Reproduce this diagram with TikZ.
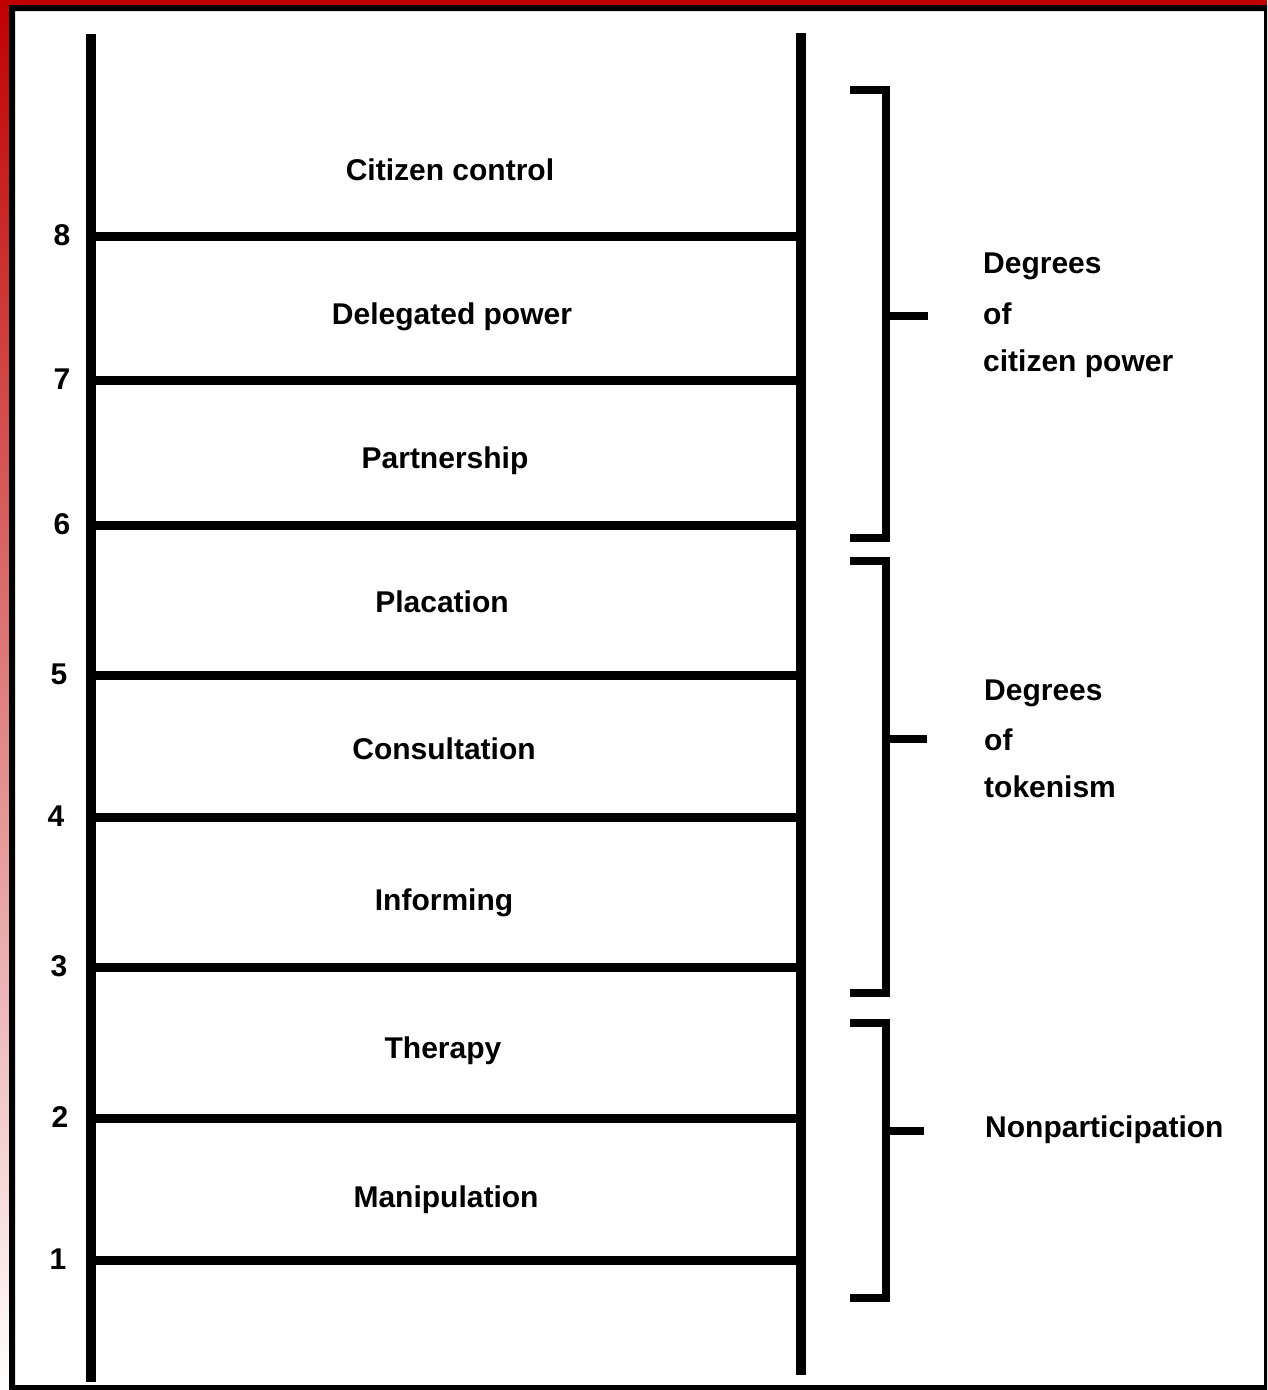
\documentclass[tikz,border=0pt]{standalone}
\usepackage{fontspec}
\setmainfont{Liberation Sans}
\begin{document}
\begin{tikzpicture}[x=1pt,y=-1pt,
  rail/.style={line width=9.5pt},
  rung/.style={line width=9pt},
  brace/.style={line width=8.5pt},
  rungtext/.style={font=\fontsize{30}{36}\selectfont\bfseries, inner sep=0pt,
    text height=22pt, text depth=0pt},
  numtext/.style={rungtext},
  sidetext/.style={rungtext, anchor=west}]
% page frame
\useasboundingbox (0,0) rectangle (1267,1390);
\fill[white] (0,0) rectangle (1267,1390);
\definecolor{framered}{RGB}{192,0,0}
\shade[top color=framered, bottom color=white] (0,0) rectangle (9,1390);
\fill[framered] (0,0) rectangle (1267,5);
\fill[black, even odd rule] (9,5) rectangle (1267,1390) (15,11) rectangle (1264,1385);

% rails
\coordinate (LT) at (91,34);
\coordinate (LB) at (91,1382);
\coordinate (RT) at (801,33);
\coordinate (RB) at (801,1375);
\draw[rail] (LT) -- (LB);
\draw[rail] (RT) -- (RB);

% rungs with their numbers
\foreach \n/\y/\nx in {8/236/62, 7/380/62, 6/525/62, 5/675/59, 4/817/56, 3/967/59, 2/1118/60, 1/1260/58}{
  \coordinate (rl\n) at (91,\y);
  \coordinate (rr\n) at (801,\y);
  \draw[rung] (rl\n) -- (rr\n);
  \node[numtext] (num\n) at (\nx,\y-2) {\n};
}

% rung names
\node[rungtext] (s8) at (450,169) {Citizen control};
\node[rungtext] (s7) at (452,313) {Delegated power};
\node[rungtext] (s6) at (445,457) {Partnership};
\node[rungtext] (s5) at (442,601) {Placation};
\node[rungtext] (s4) at (444,748) {Consultation};
\node[rungtext] (s3) at (444,899) {Informing};
\node[rungtext] (s2) at (443,1047) {Therapy};
\node[rungtext] (s1) at (446,1196) {Manipulation};

% brackets
\foreach \b/\ya/\yb/\ym/\xt in {p/90/538/316/928, t/561/993/739/927, n/1023/1298/1131/924}{
  \coordinate (\b a) at (850,\ya);
  \coordinate (\b b) at (850,\yb);
  \coordinate (\b m) at (886,\ym);
  \coordinate (\b t) at (\xt,\ym);
  \draw[brace] (\b a) -| (886,\yb) -- (\b b);
  \draw[brace] (\b m) -- (\b t);
}

% group names
\node[sidetext] (gp1) at (983,262) {Degrees};
\node[sidetext] (gp2) at (983,313) {of};
\node[sidetext] (gp3) at (983,360) {citizen power};
\node[sidetext] (gt1) at (984,689) {Degrees};
\node[sidetext] (gt2) at (984,739) {of};
\node[sidetext] (gt3) at (984,786) {tokenism};
\node[sidetext] (gn1) at (985,1126) {Nonparticipation};
\end{tikzpicture}
\end{document}
